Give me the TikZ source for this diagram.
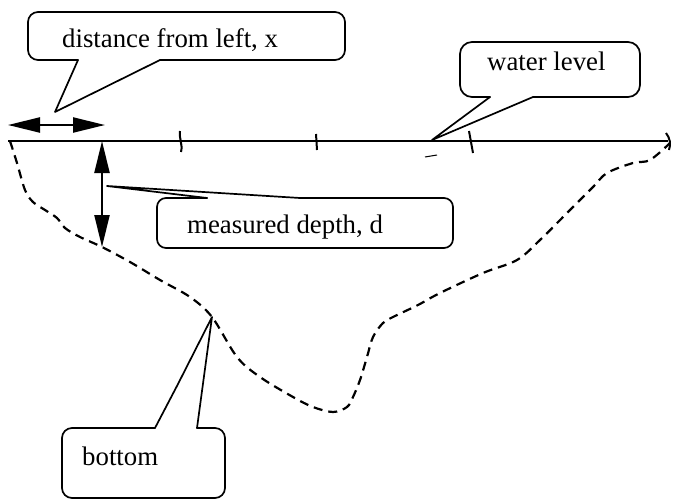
\documentclass[tikz,border=0pt]{standalone}
\usepackage{fontspec}
\setmainfont{Liberation Serif}
\usetikzlibrary{arrows.meta}
\begin{document}
\begin{tikzpicture}[x=1pt,y=-1pt,
  outline/.style={line width=1.7pt, line cap=round, line join=round},
  lbl/.style={anchor=base west, inner sep=0pt, font=\fontsize{26.8}{30}\selectfont},
  dblarrow/.style={line width=2.2pt, {Triangle[length=32pt,width=15pt]}-{Triangle[length=32pt,width=15pt]}},
  bed/.style={line width=2.2pt, dash pattern=on 9pt off 6pt},
  tickmark/.style={line width=2pt}]
\useasboundingbox (0,0) rectangle (680,501);

% water level line
\coordinate (wl) at (8,141);
\coordinate (wr) at (668,141);
\draw[line width=2pt] (wl) -- (wr);

% ticks on the water line
\draw[tickmark] (180,131) .. controls (179,140) and (183,144) .. (181,152);
\draw[tickmark] (316,134) -- (317,150);
\draw[tickmark] (469,131) -- (473,153);
\draw[tickmark] (666,133) .. controls (670,138) and (671,144) .. (669,150);
\draw[line width=1pt] (425,157) -- (437,155);

% river bed (dashed)
\draw[bed] plot[smooth, tension=0.55] coordinates {
  (10,141) (17,163) (25,190) (33,202) (45,210) (57,218) (65,228) (80,237)
  (102,247) (130,262) (160,280) (190,297) (212,317) (237,357) (260,377)
  (293,397) (313,407) (333,412) (347,407) (353,397) (360,380) (367,357)
  (373,337) (383,323) (393,317) (418,305) (440,293) (483,273) (517,260)
  (540,240) (567,213) (593,187) (607,173) (633,163) (650,160) (670,143)};

% double arrows
\coordinate (xa) at (8,125);
\coordinate (xb) at (105,125);
\draw[dblarrow] (xa) -- (xb);
\coordinate (da) at (102,141);
\coordinate (db) at (102,247);
\draw[dblarrow] (da) -- (db);

% callout: distance from left, x
\coordinate (tipx) at (55,112);
\coordinate (bx1) at (78,60);
\coordinate (bx2) at (160,60);
\draw[outline, rounded corners=10] (bx2) -- (345,60) -- (345,12) -- (28,12) -- (28,60) -- (bx1);
\draw[outline] (bx1) -- (tipx) -- (bx2);
\node[lbl] (tx) at (62,47) {distance from left, x};

% callout: water level
\coordinate (tipw) at (432,140);
\coordinate (bw1) at (490,97);
\coordinate (bw2) at (533,97);
\draw[outline, rounded corners=12] (bw2) -- (640,97) -- (640,42) -- (460,42) -- (460,97) -- (bw1);
\draw[outline] (bw1) -- (tipw) -- (bw2);
\node[lbl] (tw) at (487,70) {water level};

% callout: measured depth, d
\coordinate (tipd) at (107,186);
\coordinate (bd1) at (207,198);
\coordinate (bd2) at (300,198);
\draw[outline, rounded corners=9] (bd2) -- (453,198) -- (453,248) -- (157,248) -- (157,198) -- (bd1);
\draw[outline] (bd1) -- (tipd) -- (bd2);
\node[lbl] (td) at (187,233) {measured depth, d};

% callout: bottom
\coordinate (tipb) at (212,317);
\coordinate (kb) at (178,384);
\coordinate (bb1) at (155,428);
\coordinate (bb2) at (197,428);
\draw[outline, rounded corners=10] (bb2) -- (225,428) -- (225,498) -- (62,498) -- (62,428) -- (bb1);
\draw[outline] (bb1) -- (kb) -- (tipb) -- (bb2);
\node[lbl] (tb) at (82,465) {bottom};
\end{tikzpicture}
\end{document}
